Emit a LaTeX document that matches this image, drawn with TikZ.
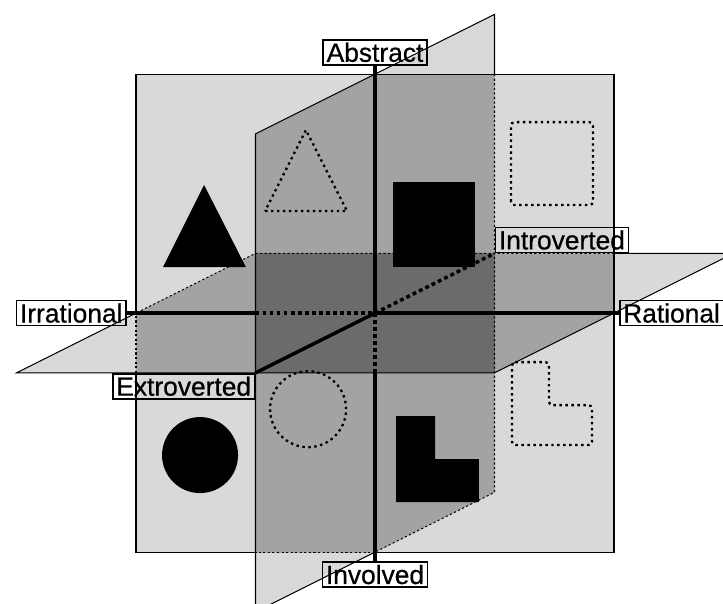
\documentclass[tikz,border=0pt]{standalone}
\usepackage{fontspec}
\newfontfamily\labelfont[FakeBold=0.6]{Liberation Sans}
\definecolor{planelight}{gray}{0.85}
\definecolor{planemid}{gray}{0.64}
\definecolor{planedark}{gray}{0.42}
\begin{document}
\begin{tikzpicture}[x={(4.78cm,0cm)},y={(0cm,4.78cm)},z={(2.39cm,1.195cm)},
  edge/.style={line width=0.6pt},
  hidden/.style={edge,dash pattern=on 1.2pt off 1.4pt},
  axis/.style={line width=2pt},
  hiddenaxis/.style={axis,dash pattern=on 2.2pt off 1.8pt},
  ghost/.style={line width=1.3pt,dash pattern=on 1.4pt off 2pt},
  pole/.style={draw,line width=1pt,inner xsep=2pt,inner ysep=1.6pt,
    font=\labelfont\fontsize{15}{18}\selectfont}]
  \clip (-1.569,-1.213) rectangle (1.456,1.310);
  % the three planes
  \fill[planelight] (0,1,-1) -- (0,1,1) -- (0,-1,1) -- (0,-1,-1) -- cycle;
  \fill[planelight] (-1,0,-1) -- (1,0,-1) -- (1,0,1) -- (-1,0,1) -- cycle;
  \fill[planelight] (-1,-1) rectangle (1,1);
  \begin{scope}
    \clip (-1,-1) rectangle (1,1);
    \fill[planemid] (0,1,-1) -- (0,1,1) -- (0,-1,1) -- (0,-1,-1) -- cycle;
    \fill[planemid] (-1,0,-1) -- (1,0,-1) -- (1,0,1) -- (-1,0,1) -- cycle;
  \end{scope}
  \fill[planedark] (0,0,-1) rectangle (0,0,1);
  % frontal square
  \draw[edge] (-1,0) -- (-1,1) -- (1,1) -- (1,-1) -- (0,-1);
  \draw[hidden] (0,-1) -- (-0.5,-1);
  \draw[edge] (-0.5,-1) -- (-1,-1) -- (-1,-0.25);
  \draw[hidden] (-1,-0.25) -- (-1,0);
  % horizontal plane
  \draw[edge] (-1,0) -- (-1,0,-1) -- (1,0,-1) -- (1,0,1) -- (1,0.25);
  \draw[hidden] (1,0.25) -- (-1,0,1) -- (-1,0);
  % sagittal plane
  \draw[edge] (0,-1) -- (0,-1,-1) -- (0,1,-1) -- (0,1,1) -- (0.5,1);
  \draw[hidden] (0.5,1) -- (0,-1,1) -- (0,-1);
  % shapes
  \fill (-0.887,0.192) -- (-0.540,0.192) -- (-0.715,0.536) -- cycle;
  \fill (0.075,0.192) rectangle (0.418,0.548);
  \fill (-0.732,-0.594) circle (0.159);
  \fill (0.088,-0.431) -- (0.251,-0.431) -- (0.251,-0.611) -- (0.435,-0.611)
    -- (0.435,-0.791) -- (0.088,-0.791) -- cycle;
  \draw[ghost] (-0.460,0.427) -- (-0.117,0.427) -- (-0.289,0.766) -- cycle;
  \draw[ghost,rounded corners=2pt] (0.569,0.452) rectangle (0.912,0.799);
  \draw[ghost] (-0.280,-0.402) circle (0.159);
  \draw[ghost,rounded corners=2pt] (0.573,-0.205) -- (0.728,-0.205) -- (0.728,-0.385)
    -- (0.908,-0.385) -- (0.908,-0.552) -- (0.573,-0.552) -- cycle;
  % labels
  \node[pole,anchor=south] (abs) at (0,1.035) {Abstract};
  \node[pole,anchor=north] (inv) at (0,-1.038) {Involved};
  \node[pole,anchor=east] (irr) at (-1.038,0) {Irrational};
  \node[pole,anchor=west] (rat) at (1.02,0) {Rational};
  \node[pole,anchor=south west] (intro) at (0,0,1) {Introverted};
  \node[pole,anchor=north east] (extro) at (0,0,-1) {Extroverted};
  % axes
  \coordinate (o) at (0,0,0);
  \coordinate (sagfront) at (-0.5,0);
  \coordinate (horfront) at (0,-0.25);
  \draw[axis] (irr.east) -- (sagfront);
  \draw[hiddenaxis] (sagfront) -- (o);
  \draw[axis] (o) -- (rat.west);
  \draw[axis] (abs.south) -- (o);
  \draw[hiddenaxis] (o) -- (horfront);
  \draw[axis] (horfront) -- (inv.north);
  \draw[axis] (extro.north east) -- (o);
  \draw[hiddenaxis] (o) -- (intro.south west);
\end{tikzpicture}
\end{document}
